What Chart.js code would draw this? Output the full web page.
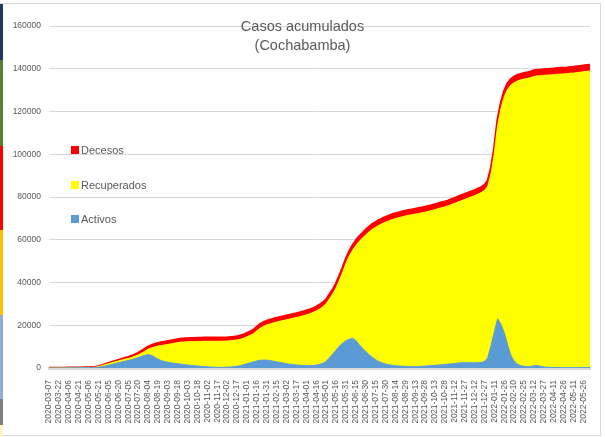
<!DOCTYPE html>
<html lang="es">
<head>
<meta charset="UTF-8">
<title>Casos acumulados (Cochabamba)</title>
<style>
  body { margin: 0; background: #fff; }
  #wrap { position: relative; width: 605px; height: 437px; overflow: hidden; background: #fff; }
  #marco { position: absolute; left: 0; top: 3px; width: 601px; height: 433px; border: 1px solid #d9d9d9; box-sizing: border-box; }
  .franja { position: absolute; left: 0; width: 3px; }
  canvas { position: absolute; left: 0; top: 0; }
</style>
</head>
<body>
<div id="wrap">
  <div id="marco"></div>
  <div class="franja" style="top:4px;height:56px;background:#1f3864"></div>
  <div class="franja" style="top:60px;height:86px;background:#548235"></div>
  <div class="franja" style="top:146px;height:84px;background:#ff0000"></div>
  <div class="franja" style="top:230px;height:85px;background:#ffc000"></div>
  <div class="franja" style="top:315px;height:84px;background:#8faadc"></div>
  <div class="franja" style="top:399px;height:26px;background:#7f7f7f"></div>
  <div class="franja" style="top:425px;height:12px;background:#fff2cc"></div>
  <canvas id="grafico" width="605" height="437"></canvas>
</div>
<script src="https://cdn.jsdelivr.net/npm/chart.js"></script>
<script>
    // valores cada 5 dias desde 2020-03-07
    const activos = [
        0, 2, 9, 18, 26, 38, 48, 62, 75, 95, 120, 145, 175, 220, 290,
        350, 600, 900, 1250, 1650, 2050, 2450, 2800, 3200, 3500, 3900, 4400, 4800, 5400, 5900, 6300, 6000, 5100, 4200, 3500, 3000, 2700, 2400, 2200, 2000, 1800, 1600, 1450,
        1250, 1100, 950, 800, 650, 550, 450, 380, 320, 300, 320, 380, 480, 620, 800,
        1100, 1500, 2000, 2500, 2900, 3300, 3600, 3700, 3700, 3500, 3200, 2900, 2600, 2300, 2000, 1800, 1600, 1400, 1300, 1200, 1100, 1100, 1150, 1350, 1700,
        2200, 3000, 4800, 6500, 8300, 10200, 11600, 12700, 13400, 13900, 12900, 11000, 9300, 7700, 6300, 5000, 3900, 3000,
        2400, 1900, 1500, 1300, 1100, 950, 850, 750, 650, 600, 620, 700, 800, 900, 1000, 1150, 1300, 1400, 1500, 1650, 1800, 1950, 2100, 2300, 2450, 2500, 2500, 2450, 2450, 2500, 2600, 3000,
        4800, 10500, 17000, 23000, 20500, 16500, 11000, 6000, 3200, 1800, 1100, 800, 600, 700, 1100, 1200, 800, 500, 350, 300, 250, 200, 200, 200, 200, 200, 200, 200, 200, 200, 200, 200
    ]
    const recuperados = [
        0, 0, 0, 1, 2, 4, 7, 12, 17, 25, 37, 48, 63, 82, 105,
        290, 500, 650, 750, 790, 820, 850, 880, 910, 930, 1000, 1110, 1270, 1530, 1890, 2450, 3370, 4700, 6040, 6990, 7750, 8320, 8890, 9370, 9850, 10340, 10580, 10820,
        11060, 11255, 11450, 11645, 11840, 11935, 12030, 12125, 12170, 12215, 12240, 12255, 12270, 12285, 12300,
        12330, 12410, 12590, 12760, 13130, 14100, 14970, 15750, 16430, 17120, 17910, 18605, 19300, 19895, 20590, 21085, 21680, 22175, 22670, 23165, 23760, 24255, 24800, 25295, 25840,
        26430, 27015, 27500, 28080, 29055, 30725, 33090, 36150, 38910, 41070, 44340, 48210, 51390, 54570, 57355, 59845, 61935, 63730,
        65120, 66310, 67305, 68100, 68800, 69345, 69845, 70340, 70740, 71085, 71365, 71580, 71780, 71975, 72275, 72520, 72770, 73165, 73465, 73710, 74060, 74505, 74955, 75350, 75800, 76345, 76945, 77590, 78190, 78835, 79435, 80030,
        80220, 80400, 83470, 90430, 100890, 110350, 119320, 126300, 130280, 132470, 133660, 134355, 134850, 135145, 135300, 135450, 135930, 136425, 136670, 136815, 136960, 137205, 137300, 137395, 137490, 137685, 137780, 137975, 138170, 138365, 138560, 138755
    ]
    const decesos = [
        0, 0, 1, 1, 2, 3, 5, 6, 8, 10, 13, 17, 22, 28, 35,
        60, 100, 150, 200, 260, 330, 400, 470, 540, 620, 700, 790, 880, 970, 1060, 1150, 1230, 1300, 1360, 1410, 1450, 1480, 1510, 1530, 1550, 1560, 1570, 1580,
        1590, 1595, 1600, 1605, 1610, 1615, 1620, 1625, 1630, 1635, 1640, 1645, 1650, 1655, 1660,
        1670, 1690, 1710, 1740, 1770, 1800, 1830, 1850, 1870, 1880, 1890, 1895, 1900, 1905, 1910, 1915, 1920, 1925, 1930, 1935, 1940, 1945, 1950, 1955, 1960,
        1970, 1985, 2000, 2020, 2045, 2075, 2110, 2150, 2190, 2230, 2260, 2290, 2310, 2330, 2345, 2355, 2365, 2370,
        2380, 2390, 2395, 2400, 2400, 2405, 2405, 2410, 2410, 2415, 2415, 2420, 2420, 2425, 2425, 2430, 2430, 2435, 2435, 2440, 2440, 2445, 2445, 2450, 2450, 2455, 2455, 2460, 2460, 2465, 2465, 2470,
        2480, 2500, 2530, 2570, 2610, 2650, 2680, 2700, 2720, 2730, 2740, 2745, 2750, 2755, 2760, 2765, 2770, 2775, 2780, 2785, 2790, 2795, 2800, 2805, 2810, 2815, 2820, 2825, 2830, 2835, 2840, 2845
    ]
    const inicio = Date.UTC(2020, 2, 7)
    const fechas = activos.map((_, i) => new Date(inicio + i * 5 * 86400000).toISOString().slice(0, 10))
    const titulo = ['Casos acumulados', '(Cochabamba)']

    const fuente = "'Liberation Sans', Arial, sans-serif"
    const gris = '#595959'

    // titulo y leyenda dibujados encima del area del grafico, como en Excel
    const extras = {
        id: 'extras',
        afterDraw(chart) {
            const ctx = chart.ctx
            ctx.save()
            ctx.fillStyle = gris
            ctx.textAlign = 'center'
            ctx.textBaseline = 'middle'
            ctx.font = '14.5px ' + fuente
            titulo.forEach((t, i) => ctx.fillText(t, chart.width / 2, 27 + i * 19))

            ctx.textAlign = 'left'
            ctx.font = '11px ' + fuente
            const filas = [150, 185, 219]
            chart.data.datasets.slice().reverse().forEach((ds, i) => {
                ctx.fillStyle = ds.backgroundColor
                ctx.fillRect(71, filas[i] - 4, 8, 8)
                ctx.fillStyle = gris
                ctx.fillText(ds.label, 81, filas[i] + 1)
            })
            ctx.restore()
        }
    }

    new Chart(document.getElementById('grafico'), {
        type: 'line',
        data: {
            labels: fechas,
            datasets: [
                { label: 'Activos', data: activos, backgroundColor: '#5b9bd5', borderColor: '#5b9bd5', borderWidth: 1, fill: 'origin', pointRadius: 0 },
                { label: 'Recuperados', data: recuperados, backgroundColor: '#ffff00', borderColor: '#ffff00', borderWidth: 1, fill: '-1', pointRadius: 0 },
                { label: 'Decesos', data: decesos, backgroundColor: '#ff0000', borderColor: '#ff0000', borderWidth: 2.5, fill: '-1', pointRadius: 0 }
            ]
        },
        options: {
            responsive: false,
            animation: false,
            layout: { padding: { left: 0, right: 15, top: 26, bottom: 0 } },
            plugins: { legend: { display: false }, tooltip: { enabled: false } },
            scales: {
                x: {
                    grid: { display: false },
                    border: { color: '#d9d9d9', width: 3 },
                    ticks: {
                        autoSkip: false, minRotation: 90, maxRotation: 90, padding: 4,
                        color: gris, font: { family: fuente, size: 8.5 },
                        callback: function (v, i) { return i % 3 === 0 ? this.getLabelForValue(v) : null }
                    },
                    afterFit: s => { s.height = 69 }
                },
                y: {
                    stacked: true, min: 0, max: 160000,
                    grid: { color: '#d9d9d9', drawTicks: false },
                    border: { display: false },
                    ticks: {
                        stepSize: 20000, padding: 8, color: gris, font: { family: fuente, size: 8.5 },
                        callback: v => String(v)
                    },
                    afterFit: s => { s.width = 49 }
                }
            }
        },
        plugins: [extras]
    })
</script>
</body>
</html>
